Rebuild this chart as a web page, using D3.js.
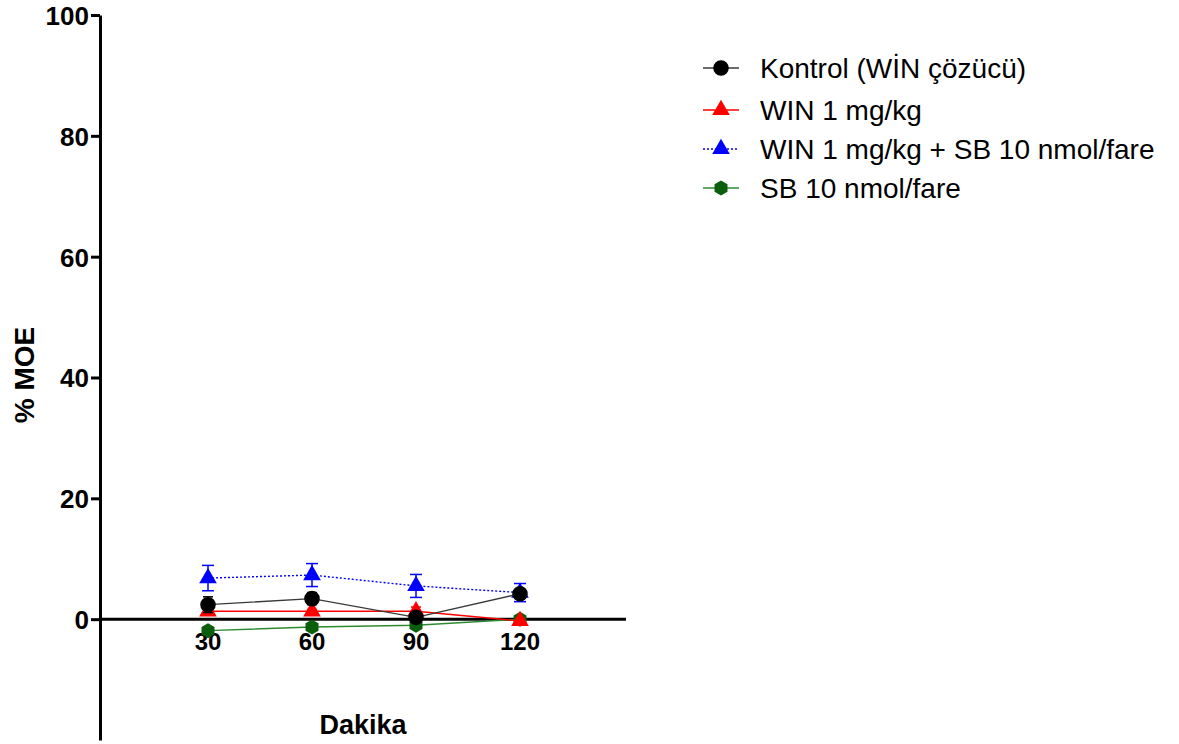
<!DOCTYPE html>
<html>
<head>
<meta charset="utf-8">
<script src="https://cdn.jsdelivr.net/npm/d3@7/dist/d3.min.js"></script>
<style>
  html, body { margin: 0; padding: 0; background: #fff; }
  svg { display: block; font-family: "Liberation Sans", Arial, sans-serif; }
</style>
</head>
<body>
<svg id="chart" width="1179" height="744"></svg>
<script>
// Time points (minutes) and group means ± SEM, % MOE
const minutes = [30, 60, 90, 120];
const kontrolMean = [2.4, 3.4, 0.3, 4.2];
const kontrolSem  = [1.3, 1.0, 0.4, 0.8];
const win1Mean    = [1.3, 1.3, 1.3, -0.3];
const win1Sem     = [0.4, 0.3, 0.7, 0.3];
const winSbMean   = [6.8, 7.3, 5.5, 4.4];
const winSbSem    = [2.1, 1.9, 1.9, 1.5];
const sbMean      = [-1.9, -1.3, -1.0, 0.0];
const sbSem       = [0.5, 0.4, 0.5, 0.3];

const seriesNames = ["Kontrol (WİN çözücü)", "WIN 1 mg/kg", "WIN 1 mg/kg + SB 10 nmol/fare", "SB 10 nmol/fare"];
const yTicks = [0, 20, 40, 60, 80, 100];
const xTicks = [30, 60, 90, 120];

const series = [
  { name: seriesNames[0], mean: kontrolMean, sem: kontrolSem, marker: "circle",   fill: "#000000", line: "#3a3a3a", dash: null,  cap: 5 },
  { name: seriesNames[1], mean: win1Mean,    sem: win1Sem,    marker: "triangle", fill: "#ff0000", line: "#ff0000", dash: null,  cap: 5 },
  { name: seriesNames[2], mean: winSbMean,   sem: winSbSem,   marker: "triangle", fill: "#0000ff", line: "#0000ff", dash: "2,2", cap: 6 },
  { name: seriesNames[3], mean: sbMean,      sem: sbSem,      marker: "hexagon",  fill: "#0b5e0b", line: "#2f8a2f", dash: null,  cap: 5 }
];

const svg = d3.select("#chart");
const axisX = 100;

const x = d3.scaleLinear().domain([0, 150]).range([104, 624]);
const y = d3.scaleLinear().domain([-20, 100]).range([740, 15]);

// Marker shapes
function hexPath(r) {
  const pts = d3.range(6).map(i => {
    const a = Math.PI / 6 + i * Math.PI / 3;
    return [r * Math.cos(a), r * Math.sin(a)];
  });
  return "M" + pts.map(p => p.join(",")).join("L") + "Z";
}
function markerPath(kind) {
  if (kind === "circle") return d3.symbol(d3.symbolCircle, 190)();
  if (kind === "triangle") return d3.symbol(d3.symbolTriangle, 135)();
  return hexPath(7.5);
}

// Y axis
const yAxis = d3.axisLeft(y).tickValues(yTicks).tickSize(9).tickSizeOuter(0).tickFormat(d3.format("d"));
const gy = svg.append("g").attr("transform", `translate(${axisX},0)`).call(yAxis);
gy.select(".domain").attr("stroke", "#000").attr("stroke-width", 3);
gy.selectAll(".tick line").attr("stroke", "#000").attr("stroke-width", 3);
gy.selectAll(".tick text")
  .attr("fill", "#000")
  .attr("font-size", 26)
  .attr("font-weight", "bold")
  .attr("font-family", "'Liberation Sans', Arial, sans-serif")
  .attr("x", -11)
  .attr("dy", "0.36em");

// X axis drawn along y = 0
const gx = svg.append("g").attr("transform", `translate(0,${y(0)})`);
gx.append("line")
  .attr("x1", axisX).attr("x2", x(150) + 2)
  .attr("y1", 0).attr("y2", 0)
  .attr("stroke", "#000").attr("stroke-width", 3);
gx.selectAll("text.xt")
  .data(xTicks)
  .join("text")
  .attr("class", "xt")
  .attr("x", d => x(d))
  .attr("y", 31)
  .attr("text-anchor", "middle")
  .attr("font-size", 24)
  .attr("font-weight", "bold")
  .text(d => d);

// Axis titles
svg.append("text")
  .attr("transform", `translate(34,375) rotate(-90)`)
  .attr("text-anchor", "middle")
  .attr("font-size", 28)
  .attr("font-weight", "bold")
  .text("% MOE");
svg.append("text")
  .attr("x", 363).attr("y", 734)
  .attr("text-anchor", "middle")
  .attr("font-size", 27)
  .attr("font-weight", "bold")
  .text("Dakika");

// Series, drawn back to front
const drawOrder = [3, 1, 2, 0];
const lineGen = d3.line().x(d => x(d[0])).y(d => y(d[1]));

drawOrder.forEach(i => {
  const s = series[i];
  const pts = minutes.map((m, k) => [m, s.mean[k], s.sem[k]]);
  const g = svg.append("g");
  g.append("path")
    .attr("d", lineGen(pts))
    .attr("fill", "none")
    .attr("stroke", s.line)
    .attr("stroke-width", 1.4)
    .attr("stroke-dasharray", s.dash);
  // error bars
  const eb = g.selectAll("g.eb").data(pts).join("g").attr("class", "eb");
  eb.append("line")
    .attr("x1", d => x(d[0])).attr("x2", d => x(d[0]))
    .attr("y1", d => y(d[1] - d[2])).attr("y2", d => y(d[1] + d[2]))
    .attr("stroke", s.fill).attr("stroke-width", 1.5);
  [-1, 1].forEach(sign => {
    eb.append("line")
      .attr("x1", d => x(d[0]) - s.cap).attr("x2", d => x(d[0]) + s.cap)
      .attr("y1", d => y(d[1] + sign * d[2])).attr("y2", d => y(d[1] + sign * d[2]))
      .attr("stroke", s.fill).attr("stroke-width", 1.5);
  });
  g.selectAll("path.mk").data(pts).join("path")
    .attr("class", "mk")
    .attr("d", markerPath(s.marker))
    .attr("transform", d => `translate(${x(d[0])},${y(d[1])})`)
    .attr("fill", s.fill);
});

// Legend
const legendRows = [68, 110, 149, 188];
const legend = svg.append("g");
series.forEach((s, i) => {
  const row = legend.append("g").attr("transform", `translate(0,${legendRows[i]})`);
  row.append("line")
    .attr("x1", 703).attr("x2", 739).attr("y1", 0).attr("y2", 0)
    .attr("stroke", s.line).attr("stroke-width", 1.4)
    .attr("stroke-dasharray", s.dash);
  row.append("path")
    .attr("d", markerPath(s.marker))
    .attr("transform", "translate(721,0)")
    .attr("fill", s.fill);
  row.append("text")
    .attr("x", 760).attr("y", 0).attr("dy", "0.36em")
    .attr("font-size", 28)
    .attr("fill", "#000")
    .text(s.name);
});
</script>
</body>
</html>
